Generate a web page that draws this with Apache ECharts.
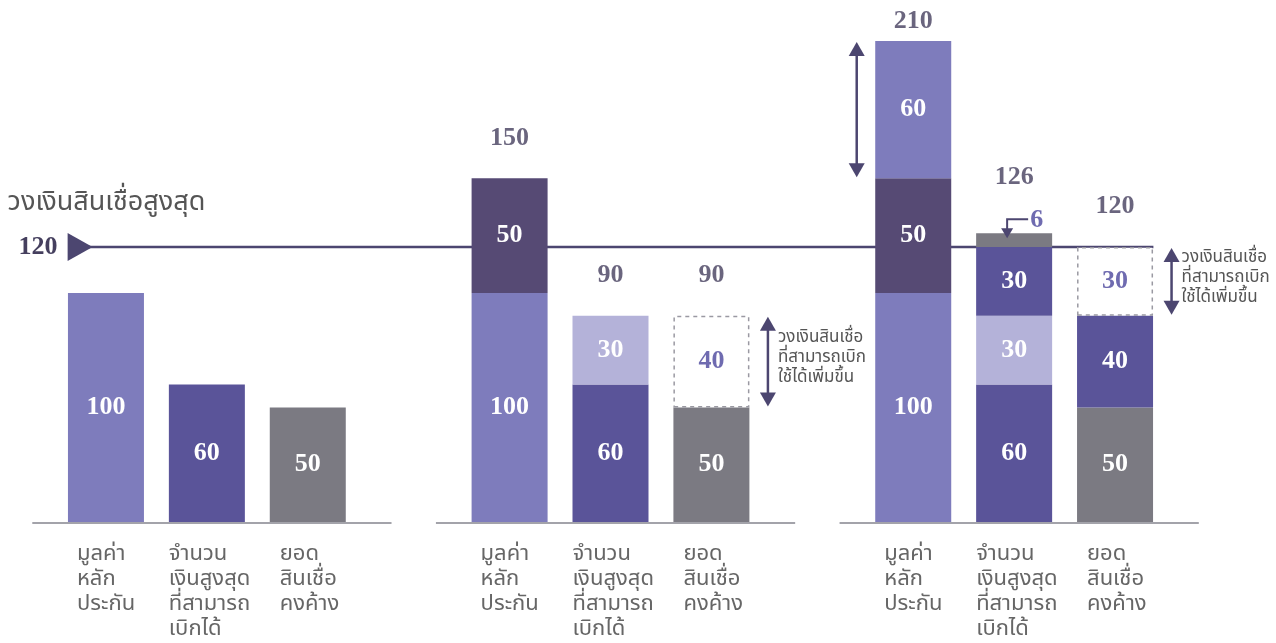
<!DOCTYPE html>
<html>
<head>
<meta charset="utf-8">
<script src="https://cdn.jsdelivr.net/npm/echarts@6/dist/echarts.min.js"></script>
<style>
  html, body { margin: 0; background: #fff; }
  #chart { width: 1276px; height: 643px; }
</style>
</head>
<body>
<div id="chart"></div>
<script>
// หมวดหมู่ (ช่องว่าง '' คั่นระหว่าง 3 กลุ่ม)
const xLabels = [
  'มูลค่า\nหลัก\nประกัน', 'จำนวน\nเงินสูงสุด\nที่สามารถ\nเบิกได้', 'ยอด\nสินเชื่อ\nคงค้าง', '',
  'มูลค่า\nหลัก\nประกัน', 'จำนวน\nเงินสูงสุด\nที่สามารถ\nเบิกได้', 'ยอด\nสินเชื่อ\nคงค้าง', '',
  'มูลค่า\nหลัก\nประกัน', 'จำนวน\nเงินสูงสุด\nที่สามารถ\nเบิกได้', 'ยอด\nสินเชื่อ\nคงค้าง'
];

// ค่าแต่ละชั้นของแท่ง (ล่างขึ้นบน)
const layer1 = [100, 60, 50, null, 100, 60, 50, null, 100, 60, 50];
const layer2 = [null, null, null, null, 50, 30, 40, null, 50, 30, 40];
const layer3 = [null, null, null, null, null, null, null, null, 60, 30, 30];
const layer4 = [null, null, null, null, null, null, null, null, null, 6, null];
const totals = [null, null, null, null, 150, 90, 90, null, 210, 126, 120];

// วงเงินสินเชื่อสูงสุด
const limitValue = 120;

// ลูกศรสองหัว [หมวด, จาก, ถึง]
const arrowSpans = [[6, 90, 50], [10, 120, 90], [8, 210, 150]];
const arrowNotes = ['วงเงินสินเชื่อ\nที่สามารถเบิก\nใช้ได้เพิ่มขึ้น', 'วงเงินสินเชื่อ\nที่สามารถเบิก\nใช้ได้เพิ่มขึ้น', ''];
const arrowSide = [1, 1, -1];

// กลุ่มเส้นฐาน [หมวดแรก, หมวดสุดท้าย]
const groups = [[0, 2], [4, 6], [8, 10]];

// สีของแต่ละชั้น
const role1 = ['light', 'mid', 'gray', null, 'light', 'mid', 'gray', null, 'light', 'mid', 'gray'];
const role2 = [null, null, null, null, 'dark', 'pale', 'open', null, 'dark', 'pale', 'mid'];
const role3 = [null, null, null, null, null, null, null, null, 'light', 'mid', 'open'];
const role4 = [null, null, null, null, null, null, null, null, null, 'gray', null];

const numFont = "'Liberation Serif', 'DejaVu Serif', serif";
const thaiFont = "'Noto Sans Thai', 'Noto Sans', 'DejaVu Sans', sans-serif";
const lineColor = '#4c4670';

const palette = {
  light: '#7e7cbc',
  mid: '#5a5499',
  dark: '#564a74',
  pale: '#b4b2d9',
  gray: '#7b7a82'
};

function styleFor(role) {
  if (role === 'open') {
    return {
      itemStyle: { color: '#fff', borderColor: '#9a99a2', borderWidth: 1.5, borderType: [4, 4] },
      label: { color: '#6f6bb0' }
    };
  }
  return { itemStyle: { color: palette[role] }, label: { color: '#fff' } };
}

function toItems(values, roles) {
  return values.map((v, i) => v == null ? '-' : Object.assign({ value: v }, styleFor(roles[i])));
}

function layerSeries(name, values, roles, showLabel) {
  return {
    name: name,
    type: 'bar',
    stack: 'total',
    barWidth: 76,
    z: 3,
    data: toItems(values, roles),
    label: {
      show: showLabel,
      position: 'inside',
      fontFamily: numFont,
      fontWeight: 'bold',
      fontSize: 26
    }
  };
}

const labelRich = { align: 'left', fontSize: 22, lineHeight: 25, color: '#666', fontFamily: thaiFont };

var dom = document.getElementById('chart');
var myChart = echarts.init(dom);

var option = {
  backgroundColor: '#fff',
  animation: false,
  grid: { left: 55.5, right: 110.5, top: 18, bottom: 121 },
  xAxis: {
    type: 'category',
    data: xLabels,
    axisLine: { show: false },
    axisTick: { show: false },
    axisLabel: {
      interval: 0,
      margin: 21,
      formatter: function (value, index) {
        if (!value) return '';
        return value.split('\n').map(s => '{c' + (index % 4) + '|' + s + '}').join('\n');
      },
      rich: {
        c0: Object.assign({ width: 58 }, labelRich),
        c1: Object.assign({ width: 76 }, labelRich),
        c2: Object.assign({ width: 56 }, labelRich)
      }
    }
  },
  yAxis: { type: 'value', min: 0, max: 220, show: false },
  series: [
    // เส้นฐานของแต่ละกลุ่ม
    {
      type: 'custom',
      z: 1,
      silent: true,
      encode: { x: 0, y: 1 },
      data: groups.map(g => [g[0], 0, g[1]]),
      renderItem: function (params, api) {
        const band = api.size([1, 0])[0];
        const a = api.coord([api.value(0), 0]);
        const b = api.coord([api.value(2), 0]);
        return {
          type: 'line',
          shape: { x1: a[0] - band * 0.73, y1: a[1] + 1, x2: b[0] + band * 0.83, y2: a[1] + 1 },
          style: { stroke: '#a3a3aa', lineWidth: 2 }
        };
      }
    },
    // เส้นวงเงินสูงสุด
    {
      type: 'custom',
      z: 1,
      silent: true,
      encode: { x: 0, y: 1 },
      data: [[0, limitValue, 10]],
      renderItem: function (params, api) {
        const band = api.size([1, 0])[0];
        const a = api.coord([api.value(0), api.value(1)]);
        const b = api.coord([api.value(2), api.value(1)]);
        const x0 = a[0] - band * 0.38;
        const y = a[1];
        return {
          type: 'group',
          children: [
            { type: 'line', shape: { x1: x0 + 10, y1: y, x2: b[0] + band * 0.38, y2: y },
              style: { stroke: lineColor, lineWidth: 2.5 } },
            { type: 'polygon', shape: { points: [[x0, y - 14], [x0 + 25, y], [x0, y + 14]] },
              style: { fill: lineColor } },
            { type: 'text', x: x0 - 10, y: y,
              style: { text: String(api.value(1)), align: 'right', verticalAlign: 'middle',
                fill: '#453f5e', font: 'bold 26px ' + numFont } },
            { type: 'text', x: x0 - 60, y: y - 43,
              style: { text: 'วงเงินสินเชื่อสูงสุด', align: 'left', verticalAlign: 'middle',
                fill: '#555', font: '27px ' + thaiFont } }
          ]
        };
      }
    },
    layerSeries('ชั้น 1', layer1, role1, true),
    layerSeries('ชั้น 2', layer2, role2, true),
    layerSeries('ชั้น 3', layer3, role3, true),
    layerSeries('ชั้น 4', layer4, role4, false),
    // ยอดรวมเหนือแท่ง
    {
      type: 'scatter',
      z: 4,
      silent: true,
      symbolSize: 1,
      itemStyle: { color: 'transparent' },
      data: totals.map((v, i) => {
        if (v == null) return '-';
        const dist = i === 8 ? 6 : (i === 9 ? 43 : 27);
        return { value: v, label: { distance: dist } };
      }),
      label: {
        show: true,
        position: 'top',
        color: '#453f5e',
        fontFamily: numFont,
        fontWeight: 'bold',
        fontSize: 26,
        formatter: '{c}'
      }
    },
    // ลูกศรสองหัว + คำอธิบาย
    {
      type: 'custom',
      z: 5,
      silent: true,
      encode: { x: 0, y: 1 },
      data: arrowSpans,
      renderItem: function (params, api) {
        const i = params.dataIndex;
        const band = api.size([1, 0])[0];
        const top = api.coord([api.value(0), api.value(1)]);
        const bot = api.coord([api.value(0), api.value(2)]);
        const x = top[0] + arrowSide[i] * band * 0.56;
        const y1 = top[1] + 1, y2 = bot[1] - 1;
        const h = 14, w = 8;
        const children = [
          { type: 'line', shape: { x1: x, y1: y1 + h - 2, x2: x, y2: y2 - h + 2 },
            style: { stroke: lineColor, lineWidth: 2.5 } },
          { type: 'polygon', shape: { points: [[x, y1], [x - w, y1 + h], [x + w, y1 + h]] },
            style: { fill: lineColor } },
          { type: 'polygon', shape: { points: [[x, y2], [x - w, y2 - h], [x + w, y2 - h]] },
            style: { fill: lineColor } }
        ];
        if (arrowNotes[i]) {
          children.push({ type: 'text', x: x + 10, y: (y1 + y2) / 2 - 3,
            style: { text: arrowNotes[i], align: 'left', verticalAlign: 'middle',
              fill: '#555', font: '17px ' + thaiFont, lineHeight: 20 } });
        }
        return { type: 'group', children: children };
      }
    },
    // คำอธิบายส่วนเกิน 6
    {
      type: 'custom',
      z: 5,
      silent: true,
      encode: { x: 0, y: 1 },
      data: [[9, totals[9], layer4[9]]],
      renderItem: function (params, api) {
        const p = api.coord([api.value(0), api.value(1)]);
        const cx = p[0] - 7, cy = p[1] - 14;
        return {
          type: 'group',
          children: [
            { type: 'polyline', shape: { points: [[p[0] + 14, cy], [cx, cy], [cx, p[1] - 4]] },
              style: { stroke: lineColor, lineWidth: 2, fill: null } },
            { type: 'polygon', shape: { points: [[cx, p[1] + 5], [cx - 6, p[1] - 5], [cx + 6, p[1] - 5]] },
              style: { fill: lineColor } },
            { type: 'text', x: p[0] + 16, y: cy + 1,
              style: { text: String(api.value(2)), align: 'left', verticalAlign: 'middle',
                fill: '#6f6bb0', font: 'bold 26px ' + numFont } }
          ]
        };
      }
    }
  ]
};

myChart.setOption(option, true);
</script>
</body>
</html>
